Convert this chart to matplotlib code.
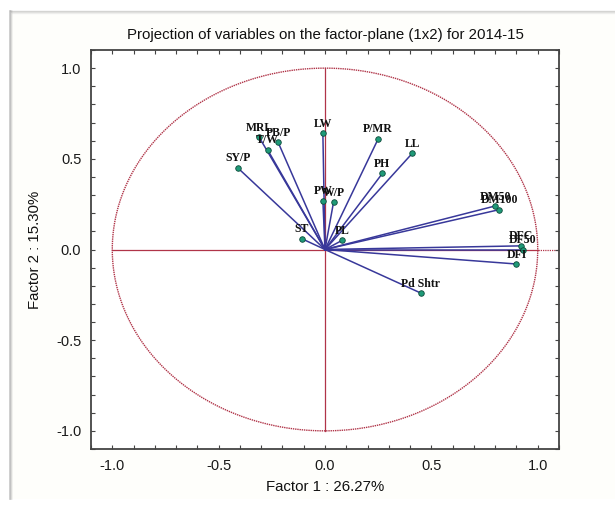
import matplotlib.pyplot as plt
import numpy as np
from matplotlib.patches import Rectangle
from matplotlib.lines import Line2D
from matplotlib.ticker import MultipleLocator, FuncFormatter

# factor loadings
labels = ["MRL", "PB/P", "T/W", "SY/P", "LW", "P/MR", "LL", "PH", "PW", "W/P",
          "ST", "PL", "DM50", "DM100", "DFC", "DF50", "DFI", "Pd Shtr"]
factor1 = [-0.31, -0.22, -0.27, -0.41, -0.01, 0.25, 0.41, 0.27, -0.01, 0.04,
           -0.11, 0.08, 0.80, 0.82, 0.92, 0.93, 0.90, 0.45]
factor2 = [0.62, 0.59, 0.55, 0.45, 0.64, 0.61, 0.53, 0.42, 0.27, 0.26,
           0.06, 0.05, 0.24, 0.22, 0.02, 0.00, -0.08, -0.24]

title = "Projection of variables on the factor-plane (1x2) for 2014-15"
xlabel = "Factor 1 : 26.27%"
ylabel = "Factor 2 : 15.30%"

sans = "Liberation Sans"
serif = "Liberation Serif"
red = "#b03448"
blue = "#38389a"

fig = plt.figure(figsize=(6.15, 5.05), dpi=100)
fig.patch.set_facecolor("white")

# card background with a grey edge at left and top
fig.patches.append(Rectangle((11 / 615, 6 / 505), 1, 1 - 17 / 505,
                             transform=fig.transFigure, facecolor="#fefefb",
                             edgecolor="none", zorder=-10))
for i, a in enumerate([0.55, 0.3, 0.15]):
    fig.lines.append(Line2D([(10 + i) / 615] * 2, [6 / 505, 1 - 11 / 505],
                            transform=fig.transFigure, color="#9a9a9a",
                            alpha=a, lw=1.2, zorder=-9))
    fig.lines.append(Line2D([(10 + i) / 615, 1], [1 - (11 + i) / 505] * 2,
                            transform=fig.transFigure, color="#b5b5b5",
                            alpha=a, lw=1, zorder=-9))

ax = fig.add_axes([91 / 615, 1 - 449 / 505, 468 / 615, 399 / 505])
ax.set_zorder(5)
ax.set_facecolor("white")
ax.set_xlim(-1.1, 1.1)
ax.set_ylim(-1.1, 1.1)

# unit circle and axes through origin
t = np.linspace(0, 2 * np.pi, 400)
ax.plot(np.cos(t), np.sin(t), color=red, lw=1.0, ls=(0, (1, 0.6)), zorder=1)
ax.plot([-1, 1], [0, 0], color=red, lw=0.9, zorder=1)
ax.plot([1, 1.1], [0, 0], color=red, lw=0.9, ls=(0, (1, 0.8)), zorder=1)
ax.plot([0, 0], [-1, 1], color=red, lw=0.9, zorder=1)

for x, y, lab in zip(factor1, factor2, labels):
    ax.plot([0, x], [0, y], color=blue, lw=1.1, zorder=2)
    ax.plot(x, y, "o", ms=4, mfc="#1f9a78", mec="#0d4a3a", mew=0.6, zorder=3)
    ax.annotate(lab, (x, y), xytext=(0, 2.5), textcoords="offset points",
                ha="center", va="bottom", fontsize=8.5, fontweight="bold",
                family=serif, color="#111111", zorder=4)

for axis in (ax.xaxis, ax.yaxis):
    axis.set_major_locator(MultipleLocator(0.5))
    axis.set_minor_locator(MultipleLocator(0.1))
    axis.set_major_formatter(FuncFormatter(lambda v, p: f"{v:.1f}"))
ax.tick_params(which="both", direction="in", top=True, right=True,
               length=3, width=0.8, color="#444444")
ax.tick_params(which="major", labelsize=10.5, pad=7, labelcolor="#1a1a1a")
for lbl in ax.get_xticklabels() + ax.get_yticklabels():
    lbl.set_family(sans)
for s in ax.spines.values():
    s.set_color("#444444")
    s.set_linewidth(1.3)

ax.set_title(title, family=sans, fontsize=10.8, color="#111111", pad=8)
ax.set_xlabel(xlabel, family=sans, fontsize=10.8, color="#111111", labelpad=5)
ax.set_ylabel(ylabel, family=sans, fontsize=10.8, color="#111111", labelpad=10)

fig.savefig("out.png", dpi=100)
